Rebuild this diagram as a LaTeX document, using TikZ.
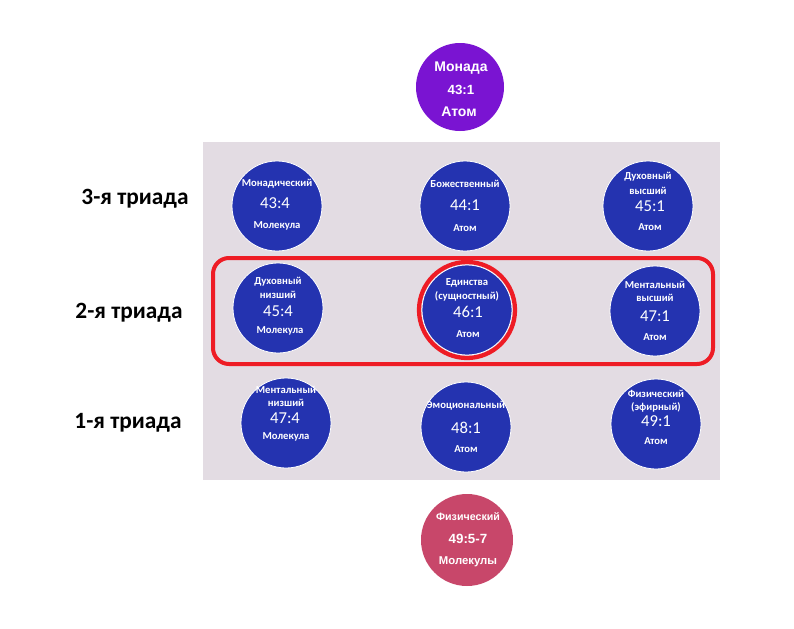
\documentclass[tikz,border=0pt]{standalone}
\usepackage{fontspec}
\setmainfont{Carlito}
\newfontfamily\arialf{Liberation Sans}
\definecolor{bgpanel}{HTML}{E3DCE3}
\definecolor{planeblue}{HTML}{2433B0}
\definecolor{monadpurple}{HTML}{7A14D2}
\definecolor{physred}{HTML}{C8476A}
\definecolor{ringred}{HTML}{EE1C25}
\begin{document}
\begin{tikzpicture}[x=0.75pt,y=-0.75pt,
  plane/.style={circle,fill=planeblue,draw=white,line width=0.6pt,minimum size=67.5pt,inner sep=0pt},
  wsm/.style={text=white,font=\bfseries\fontsize{8}{9}\selectfont,inner sep=0pt},
  wnum/.style={text=white,font=\fontsize{12.5}{13}\selectfont,inner sep=0pt},
  wbig/.style={text=white,font=\arialf\bfseries\fontsize{10.5}{12}\selectfont,inner sep=0pt},
  wmid/.style={text=white,font=\arialf\bfseries\fontsize{8}{10}\selectfont,inner sep=0pt},
  triad/.style={font=\bfseries\fontsize{17.5}{19}\selectfont,inner sep=0pt}]
\useasboundingbox (0,0) rectangle (794,629);
\fill[white] (0,0) rectangle (794,629);
% panel
\node[fill=bgpanel,minimum width=517*0.75pt,minimum height=338*0.75pt,inner sep=0pt,anchor=north west] (panel) at (203,142) {};
% highlight frame
\node[draw=ringred,line width=3pt,rounded corners=12pt,minimum width=500*0.75pt,minimum height=106*0.75pt,inner sep=0pt] (frame) at (463,311) {};
% monad
\node[circle,fill=monadpurple,minimum size=88*0.75pt,inner sep=0pt] (monad) at (460,87) {};
\node[wbig] (monadA) at (461,68) {Монада};
\node[wbig,font=\arialf\bfseries\fontsize{10}{12}\selectfont] (monadB) at (461,90) {43:1};
\node[wbig] (monadC) at (459,112) {Атом};
% physical
\node[circle,fill=physred,minimum size=92*0.75pt,inner sep=0pt] (phys) at (467,540) {};
\node[wmid] (physA) at (468,517) {Физический};
\node[wbig,font=\arialf\bfseries\fontsize{10}{12}\selectfont] (physB) at (468,539) {49:5-7};
\node[wmid,font=\arialf\bfseries\fontsize{8.5}{10}\selectfont] (physC) at (468,562) {Молекулы};
% row 3
\node[plane] (c431) at (277,206) {};
\node[wsm] at (277,184) {Монадический};
\node[wnum] at (275,203) {43:4};
\node[wsm] at (277,226) {Молекула};
\node[plane] (c441) at (465,206) {};
\node[wsm] at (465,184) {Божественный};
\node[wnum] at (465,205) {44:1};
\node[wsm] at (465,228) {Атом};
\node[plane] (c451) at (648,206) {};
\node[wsm] at (648,177) {Духовный};
\node[wsm] at (648,191) {высший};
\node[wnum] at (650,206) {45:1};
\node[wsm] at (650,227) {Атом};
% row 2
\node[plane] (c454) at (278,308) {};
\node[wsm] at (278,282) {Духовный};
\node[wsm] at (278,295) {низший};
\node[wnum] at (278,311) {45:4};
\node[wsm] at (280,331) {Молекула};
\node[plane] (c461) at (467,310) {};
\draw[ringred,line width=3.2pt] (c461.center) circle[radius=48*0.75pt];
\node[wsm] at (467,283) {Единства};
\node[wsm] at (467,296) {(сущностный)};
\node[wnum] at (468,312) {46:1};
\node[wsm] at (468,334) {Атом};
\node[plane] (c471) at (655,311) {};
\node[wsm] at (655,285) {Ментальный};
\node[wsm] at (655,298) {высший};
\node[wnum] at (655,316) {47:1};
\node[wsm] at (655,337) {Атом};
% row 1
\node[plane] (c474) at (286,423) {};
\node[wsm] at (286,390) {Ментальный};
\node[wsm] at (286,403) {низший};
\node[wnum] at (285,418) {47:4};
\node[wsm] at (286,437) {Молекула};
\node[plane] (c481) at (466,427) {};
\node[wsm] at (466,406) {Эмоциональный};
\node[wnum] at (466,428) {48:1};
\node[wsm] at (466,449) {Атом};
\node[plane] (c491) at (656,424) {};
\node[wsm] at (656,394) {Физический};
\node[wsm] at (656,407) {(эфирный)};
\node[wnum] at (656,421) {49:1};
\node[wsm] at (656,441) {Атом};
% triad labels
\node[triad] (t3) at (135,199) {3-я триада};
\node[triad] (t2) at (129,313) {2-я триада};
\node[triad] (t1) at (128,423) {1-я триада};
\end{tikzpicture}
\end{document}
